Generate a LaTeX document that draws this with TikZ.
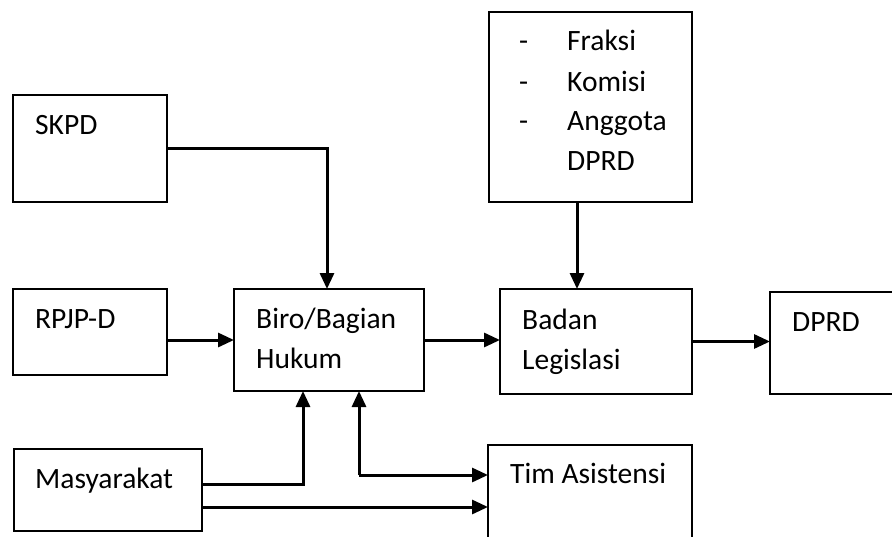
\documentclass[tikz,border=0pt]{standalone}
\usepackage{fontspec}
\setmainfont{Carlito}
\usetikzlibrary{arrows.meta,calc}
\begin{document}
\begin{tikzpicture}[x=1pt,y=-1pt,
  box/.style={draw,line width=1.9pt,rectangle,inner sep=0pt,outer sep=0pt,anchor=north west},
  txt/.style={anchor=base west,inner sep=0pt,font=\fontsize{29.5}{34}\selectfont},
  arr/.style={line width=3pt,-{Triangle[length=16pt,width=14pt]}}]
\useasboundingbox (0,0) rectangle (892,536);
\clip (0,0) rectangle (892,536);

% boxes
\node[box,minimum width=154pt,minimum height=107pt] (skpd) at (13,95) {};
\node[box,minimum width=154pt,minimum height=86pt] (rpjp) at (13,289) {};
\node[box,minimum width=190pt,minimum height=102pt] (biro) at (234,289) {};
\node[box,minimum width=203pt,minimum height=190pt] (fraksi) at (489,12) {};
\node[box,minimum width=192pt,minimum height=105pt] (badan) at (500,289) {};
\node[box,minimum width=140pt,minimum height=102pt] (dprd) at (770,292) {};
\node[box,minimum width=188pt,minimum height=82pt] (masy) at (14,449) {};
\node[box,minimum width=204pt,minimum height=120pt] (tim) at (488,445) {};

% labels
\node[txt] (skpdt) at (35,134) {SKPD};
\node[txt] (rpjpt) at (35,328) {RPJP-D};
\node[txt] (birot1) at (256,328) {Biro/Bagian};
\node[txt] (birot2) at (256,368) {Hukum};
\node[txt] (badant1) at (522,329) {Badan};
\node[txt] (badant2) at (522,369) {Legislasi};
\node[txt] (dprdt) at (792,331) {DPRD};
\node[txt] (masyt) at (35,488) {Masyarakat};
\node[txt] (timt) at (510,483) {Tim Asistensi};
\node[txt] (d1) at (519,50) {-};
\node[txt] (d2) at (519,91) {-};
\node[txt] (d3) at (519,130) {-};
\node[txt] (f1) at (567,50) {Fraksi};
\node[txt] (f2) at (567,91) {Komisi};
\node[txt] (f3) at (567,130) {Anggota};
\node[txt] (f4) at (567,170) {DPRD};

% connectors
\draw[arr] (skpd.east) -| ([xshift=-2pt]biro.north);
\draw[arr] (rpjp.east |- biro.west) -- (biro.west);
\draw[arr] (biro.east) -- (biro.east -| badan.west);
\draw[arr] (badan.east) -- (badan.east -| dprd.west);
\draw[arr] ([xshift=-13.5pt]fraksi.south) -- ([xshift=-13.5pt]fraksi.south |- badan.north);
\coordinate (m1) at ([yshift=6pt]masy.east);
\coordinate (m2) at ([yshift=-17pt]masy.east);
\draw[arr] (m1) -| ([xshift=-26pt]biro.south);
\draw[arr] (m2) -- (m2 -| tim.west);
\coordinate (jn) at (359,475);
\draw[arr] (jn) -- (jn |- biro.south);
\draw[arr] (jn) -- (jn -| tim.west);
\end{tikzpicture}
\end{document}
